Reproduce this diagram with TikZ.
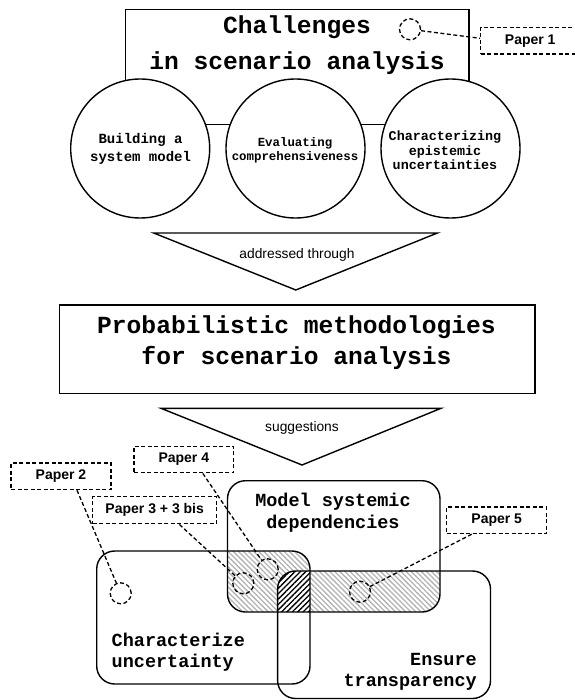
\documentclass[tikz,border=0pt]{standalone}
\usepackage{fontspec}
\setmainfont{Liberation Sans}
\newfontfamily\cour{Liberation Mono}
\usetikzlibrary{patterns.meta}
\begin{document}
\begin{tikzpicture}[x=1pt,y=-1pt,line width=1.4pt,
  dsh/.style={dash pattern=on 4pt off 2.5pt, line width=1.3pt},
  paper/.style={draw, dsh, font=\fontsize{14}{16}\selectfont\bfseries, inner sep=0pt, minimum height=26.5pt},
  dcirc/.style={draw, circle, dsh, minimum size=21pt, inner sep=0pt},
  conn/.style={draw, dsh},
  bigc/.style={draw, fill=white, circle, minimum size=139pt, inner sep=0pt, align=center},
  frame/.style={draw, inner sep=0pt},
  ttl/.style={font=\cour\bfseries\fontsize{24.6}{36.6}\selectfont, align=center, inner sep=0pt},
  mid/.style={font=\cour\bfseries\fontsize{18.5}{21.5}\selectfont, inner sep=0pt},
  tri/.style={font=\fontsize{13.8}{16}\selectfont, inner sep=0pt},
  lighthatch/.style={pattern={Lines[angle=-45,distance=3.6pt,line width=1.3pt]}, pattern color=black!30},
  darkhatch/.style={pattern={Lines[angle=45,distance=3.8pt,line width=1.3pt]}, pattern color=black},
  rr/.style={rounded corners=18pt}
]
\useasboundingbox (0,0) rectangle (574,700);

% top part
\node[frame, minimum width=343.4pt, minimum height=115pt] (top) at (297.2,66.8) {};
\node[ttl] (toptxt) at (297,45) {Challenges\\in scenario analysis};
\node[bigc] (ca) at (140.2,148.5) {};
\node[bigc] (cb) at (295.5,148.5) {};
\node[bigc] (cc) at (450.5,148.5) {};
\node[align=center, inner sep=0pt, font=\cour\bfseries\fontsize{14}{18.3}\selectfont] (ta) at (140.6,149.2) {Building a\\system model};
\node[align=center, inner sep=0pt, font=\cour\bfseries\fontsize{12.4}{14.4}\selectfont] (tb) at (295,150) {Evaluating\\comprehensiveness};
\node[align=center, inner sep=0pt, font=\cour\bfseries\fontsize{13.4}{14.4}\selectfont] (tc) at (445,150.6) {Characterizing\\epistemic\\uncertainties};

\node[dcirc] (c1) at (410,29.3) {};
\node[paper, minimum width=104pt] (p1) at (532.7,40.7) {\hspace*{-5pt}Paper 1};
\draw[conn] (c1) -- ([yshift=2.4pt]p1.west);

% first triangle
\coordinate (t1a) at (153.7,233);
\coordinate (t1b) at (437.4,233);
\coordinate (t1c) at (295.8,290);
\draw[line join=miter] (t1a) -- (t1b) -- (t1c) -- cycle;
\node[tri] (t1l) at (297,255) {addressed through};

% middle box
\node[frame, minimum width=475.8pt, minimum height=88.3pt] (mbox) at (297.2,349.2) {};
\node[ttl, font=\cour\bfseries\fontsize{24.6}{31.6}\selectfont] (mtxt) at (296.5,342.7) {Probabilistic methodologies\\for scenario analysis};

% second triangle
\coordinate (t2a) at (161,408.3);
\coordinate (t2b) at (441,408.3);
\coordinate (t2c) at (302,465);
\draw[line join=miter] (t2a) -- (t2b) -- (t2c) -- cycle;
\node[tri] (t2l) at (302,428.3) {suggestions};

% overlapping rounded boxes
\coordinate (mA) at (227.5,480.7); \coordinate (mB) at (440,612);
\coordinate (uA) at (96.7,551);    \coordinate (uB) at (310,684);
\coordinate (eA) at (277.6,571);   \coordinate (eB) at (490.5,698.5);

\begin{scope}
  \clip[rr] (mA) rectangle (mB);
  \fill[lighthatch, rr] (uA) rectangle (uB);
  \fill[lighthatch, rr] (eA) rectangle (eB);
\end{scope}
\begin{scope}
  \clip[rr] (mA) rectangle (mB);
  \clip[rr] (uA) rectangle (uB);
  \fill[white, rr] (eA) rectangle (eB);
  \fill[darkhatch, rr] (eA) rectangle (eB);
\end{scope}
\draw[rr] (mA) rectangle (mB);
\draw[rr] (uA) rectangle (uB);
\draw[rr] (eA) rectangle (eB);

\node[mid, align=center] (mtx) at (333,512.8) {Model systemic\\dependencies};
\node[mid, align=left, anchor=west] (utx) at (111,652) {Characterize\\uncertainty};
\node[mid, align=right, anchor=east] (etx) at (477.5,672) {Ensure\\transparency};

% paper boxes and markers
\node[paper, minimum width=100pt] (p2) at (61,476.3) {Paper 2};
\node[paper, minimum width=124pt, minimum height=27pt] (p3) at (154.7,510.3) {Paper 3 + 3 bis};
\node[paper, minimum width=99.5pt] (p4) at (183.8,459.5) {Paper 4};
\node[paper, minimum width=100pt] (p5) at (496.7,520.3) {Paper 5};

\node[dcirc] (c2) at (120.7,593.3) {};
\node[dcirc] (c3) at (243.3,583.3) {};
\node[dcirc] (c4) at (267.7,569.3) {};
\node[dcirc] (c5) at (360,591.7) {};

\draw[conn] ([xshift=16pt]p2.south) -- (c2);
\draw[conn] ([xshift=24.7pt]p3.south) -- (c3);
\draw[conn] ([xshift=19pt]p4.south) -- (c4);
\draw[conn] ([xshift=-25pt]p5.south) -- (c5);
\end{tikzpicture}
\end{document}
